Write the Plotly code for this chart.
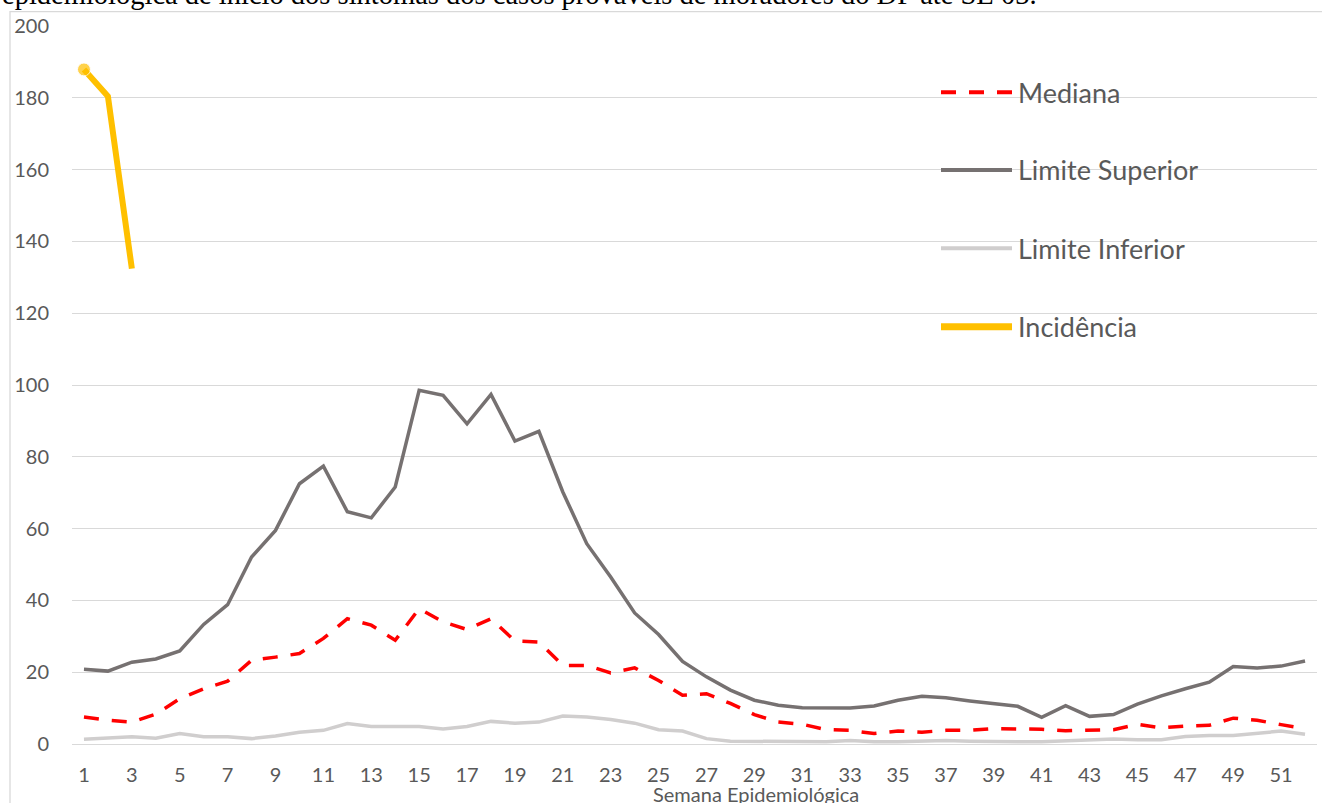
import plotly.graph_objects as go

# ---------------- data ----------------
weeks = list(range(1, 53))
x_tick_vals = list(range(1, 53, 2))
x_tick_text = [str(v) for v in x_tick_vals]
y_tick_vals = list(range(0, 201, 20))

mediana = [7.5, 6.6, 6.1, 8.3, 12.6, 15.4, 17.5, 23.3, 24.2, 25.2,
           29.4, 34.9, 33.1, 28.9, 37.7, 34.0, 31.9, 34.9, 28.7, 28.4,
           21.9, 21.9, 19.8, 21.2, 17.7, 13.6, 14.0, 11.3, 8.2, 6.1,
           5.5, 4.0, 3.8, 2.9, 3.6, 3.3, 3.8, 3.8, 4.3, 4.2,
           4.1, 3.7, 3.8, 4.0, 5.5, 4.5, 5.0, 5.2, 7.2, 6.6, 5.4, 4.3]

limite_superior = [20.8, 20.3, 22.8, 23.7, 25.9, 33.3, 38.8, 52.1, 59.5, 72.5,
                   77.4, 64.7, 63.0, 71.6, 98.5, 97.1, 89.2, 97.4, 84.4, 87.1,
                   70.2, 55.8, 46.5, 36.5, 30.5, 23.0, 18.7, 15.0, 12.2, 10.8,
                   10.1, 10.1, 10.0, 10.6, 12.2, 13.3, 12.9, 12.0, 11.2, 10.5,
                   7.4, 10.7, 7.7, 8.2, 11.1, 13.4, 15.4, 17.2, 21.6, 21.2, 21.7, 23.1]

limite_inferior = [1.3, 1.6, 2.0, 1.6, 2.9, 2.0, 2.0, 1.5, 2.2, 3.3,
                   3.8, 5.7, 4.9, 4.9, 4.9, 4.2, 4.9, 6.3, 5.8, 6.1,
                   7.8, 7.5, 6.8, 5.8, 4.0, 3.6, 1.5, 0.8, 0.8, 0.6,
                   0.6, 0.6, 1.0, 0.6, 0.6, 0.8, 1.0, 0.8, 0.6, 0.6,
                   0.6, 0.8, 1.0, 1.4, 1.2, 1.2, 2.1, 2.4, 2.4, 2.9, 3.6, 2.7]

inc_weeks = [1, 2, 3]
incidencia = [187.9, 180.4, 132.4]

series_names = ["Mediana", "Limite Superior", "Limite Inferior", "Incidência"]
title_text = ("epidemiológica de início dos sintomas dos casos prováveis "
              "de moradores do DF até SE 03.")
x_title = "Semana Epidemiológica"

# ---------------- styles ----------------
C_MED = "#FF0000"
C_SUP = "#767171"
C_INF = "#D0CECE"
C_INC = "#FFC000"
C_TXT = "#595959"
C_GRID = "#D9D9D9"
FONT = "Lato"
MED_DASH = "15px,13px"

W, H = 1322, 803
ML, MR, MT, MB = 72, 5, 26, 59
PW, PH = W - ML - MR, H - MT - MB


def px(x):
    return (x - ML) / PW


def py(y):
    return (H - MB - y) / PH


fig = go.Figure()
fig.add_trace(go.Scatter(x=weeks, y=limite_inferior, mode="lines",
                         line=dict(color=C_INF, width=3.5), name=series_names[2]))
fig.add_trace(go.Scatter(x=weeks, y=limite_superior, mode="lines",
                         line=dict(color=C_SUP, width=3.5), name=series_names[1]))
fig.add_trace(go.Scatter(x=weeks, y=mediana, mode="lines",
                         line=dict(color=C_MED, width=3.5, dash=MED_DASH),
                         name=series_names[0]))
fig.add_trace(go.Scatter(x=inc_weeks, y=incidencia, mode="lines+markers",
                         line=dict(color=C_INC, width=6),
                         marker=dict(color=C_INC, size=[13, 0, 0]),
                         name=series_names[3]))

# manual legend
leg_rows = [92.3, 170.0, 248.3, 326.7]
leg_styles = [dict(color=C_MED, width=4, dash=MED_DASH),
              dict(color=C_SUP, width=4),
              dict(color=C_INF, width=4),
              dict(color=C_INC, width=7)]
shapes = []
annotations = []
for name, row, st in zip(series_names, leg_rows, leg_styles):
    shapes.append(dict(type="line", xref="paper", yref="paper",
                       x0=px(941), x1=px(1012), y0=py(row), y1=py(row), line=st))
    annotations.append(dict(text=name, xref="paper", yref="paper",
                            x=px(1016), y=py(row), xanchor="left", yanchor="middle",
                            showarrow=False, font=dict(family=FONT, size=27, color=C_TXT)))

# chart border
shapes.append(dict(type="rect", xref="paper", yref="paper",
                   x0=px(10), x1=px(1330), y0=py(11.7), y1=py(820),
                   line=dict(color=C_GRID, width=1.3), layer="below"))

# axis title
annotations.append(dict(text=x_title, xref="paper", yref="paper",
                        x=px(756), y=py(794), xanchor="center", yanchor="middle",
                        showarrow=False, font=dict(family=FONT, size=20, color=C_TXT)))
# cut-off caption text at top
annotations.append(dict(text=title_text, xref="paper", yref="paper",
                        x=px(0), y=py(-6), xanchor="left", yanchor="middle",
                        showarrow=False,
                        font=dict(family="Liberation Serif", size=28.5, color="#000000")))

fig.update_layout(
    width=W, height=H,
    margin=dict(l=ML, r=MR, t=MT, b=MB),
    paper_bgcolor="white", plot_bgcolor="white",
    showlegend=False,
    shapes=shapes, annotations=annotations,
    xaxis=dict(range=[0.5, 52.5], tickmode="array", tickvals=x_tick_vals,
               ticktext=x_tick_text, showgrid=False, zeroline=False, showline=False,
               ticks="", ticklabelstandoff=17,
               tickfont=dict(family=FONT, size=20, color=C_TXT)),
    yaxis=dict(range=[0, 200], tickmode="array", tickvals=y_tick_vals,
               showgrid=True, gridcolor=C_GRID, gridwidth=1.3,
               zeroline=True, zerolinecolor=C_GRID, zerolinewidth=1.3,
               showline=False, ticks="", ticklabelstandoff=22,
               tickfont=dict(family=FONT, size=20, color=C_TXT)),
)

fig.write_html("out.html", config={"displayModeBar": False},
               post_script="document.body.style.margin='0';document.body.style.overflow='hidden';")
